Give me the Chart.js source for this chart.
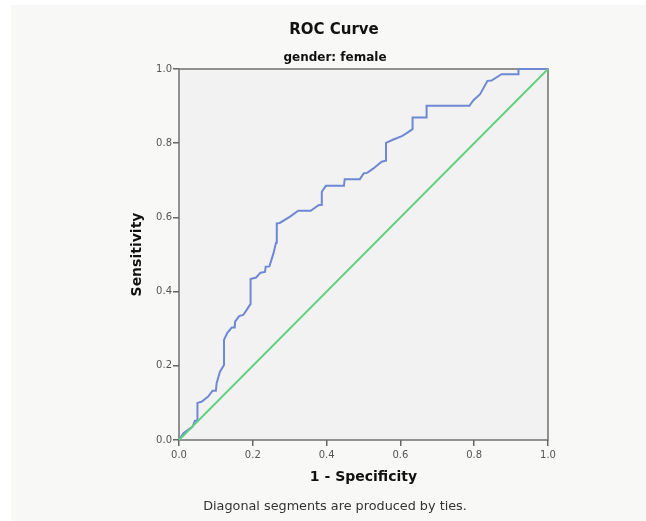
<!DOCTYPE html>
<html>
<head>
<meta charset="utf-8">
<script src="https://cdn.jsdelivr.net/npm/chart.js@4"></script>
<style>
  html, body { margin: 0; padding: 0; background: #ffffff; }
  canvas { display: block; }
</style>
</head>
<body>
<canvas id="rocChart" width="646" height="521"></canvas>
<script>
// ROC curve points (1 - specificity, sensitivity)
const fpr = [0, 0.012, 0.037, 0.043, 0.05, 0.05, 0.061, 0.079, 0.091, 0.1, 0.102, 0.111, 0.122, 0.122,
  0.131, 0.143, 0.151, 0.152, 0.163, 0.174, 0.183, 0.194, 0.194, 0.209, 0.221, 0.233, 0.235, 0.245,
  0.256, 0.263, 0.265, 0.273, 0.301, 0.323, 0.357, 0.378, 0.387, 0.387, 0.398, 0.447, 0.449, 0.49,
  0.501, 0.51, 0.527, 0.549, 0.561, 0.561, 0.581, 0.604, 0.617, 0.633, 0.633, 0.671, 0.671, 0.787,
  0.798, 0.816, 0.836, 0.847, 0.874, 0.92, 0.92, 1.0];
const tpr = [0, 0.018, 0.036, 0.052, 0.052, 0.10, 0.103, 0.117, 0.133, 0.133, 0.153, 0.184, 0.202, 0.27,
  0.289, 0.303, 0.303, 0.319, 0.334, 0.337, 0.35, 0.367, 0.434, 0.438, 0.451, 0.453, 0.467, 0.468,
  0.503, 0.532, 0.584, 0.585, 0.602, 0.618, 0.618, 0.633, 0.634, 0.669, 0.685, 0.685, 0.703, 0.703,
  0.719, 0.72, 0.732, 0.75, 0.753, 0.801, 0.81, 0.819, 0.827, 0.838, 0.869, 0.869, 0.901, 0.901,
  0.916, 0.932, 0.968, 0.969, 0.986, 0.986, 1.0, 1.0];

// reference line
const refX = [0, 1];
const refY = [0, 1];

const tickValues = [0, 0.2, 0.4, 0.6, 0.8, 1.0];

const titleText = 'ROC Curve';
const subtitleText = 'gender: female';
const xTitle = '1 - Specificity';
const yTitle = 'Sensitivity';
const footnote = 'Diagonal segments are produced by ties.';

const FONT = '"DejaVu Sans", sans-serif';

const toPoints = function (xs, ys) {
  return xs.map((x, i) => ({ x: x, y: ys[i] }));
};

// background, plot panel, frame and the text around the chart
const spssLook = {
  id: 'spssLook',
  beforeDraw(chart) {
    const ctx = chart.ctx;
    const a = chart.chartArea;
    ctx.save();
    ctx.fillStyle = '#ffffff';
    ctx.fillRect(0, 0, chart.width, chart.height);
    ctx.fillStyle = '#f8f8f6';
    ctx.fillRect(11, 5, chart.width - 11, chart.height - 5);
    ctx.fillStyle = '#f2f2f2';
    ctx.fillRect(a.left, a.top, a.right - a.left, a.bottom - a.top);
    ctx.strokeStyle = '#707070';
    ctx.lineWidth = 1.5;
    ctx.strokeRect(a.left, a.top, a.right - a.left, a.bottom - a.top);

    ctx.fillStyle = '#111111';
    ctx.textAlign = 'center';
    ctx.textBaseline = 'middle';
    ctx.font = 'bold 15px ' + FONT;
    ctx.fillText(titleText, 334, 30);
    ctx.font = 'bold 12px ' + FONT;
    ctx.fillText(subtitleText, 335, 58);
    ctx.fillStyle = '#333333';
    ctx.font = '12.8px ' + FONT;
    ctx.fillText(footnote, 335, 507);
    ctx.restore();
  }
};

new Chart(document.getElementById('rocChart'), {
  type: 'scatter',
  data: {
    datasets: [
      {
        label: 'Reference Line',
        data: toPoints(refX, refY),
        showLine: true,
        borderColor: '#5fd07c',
        borderWidth: 1.8,
        pointRadius: 0,
        tension: 0,
        clip: 3
      },
      {
        label: 'ROC',
        data: toPoints(fpr, tpr),
        showLine: true,
        borderColor: '#6f88d4',
        borderWidth: 2,
        pointRadius: 0,
        tension: 0,
        clip: 3
      }
    ]
  },
  options: {
    responsive: false,
    animation: false,
    events: [],
    layout: { padding: { left: 0, top: 69, right: 98, bottom: 0 } },
    plugins: {
      legend: { display: false },
      title: { display: false },
      tooltip: { enabled: false }
    },
    scales: {
      x: {
        type: 'linear',
        min: 0,
        max: 1,
        afterFit: function (scale) { scale.height = 81; },
        afterBuildTicks: function (scale) { scale.ticks = tickValues.map(v => ({ value: v })); },
        border: { display: false },
        grid: { drawOnChartArea: false, drawTicks: true, tickLength: 6, tickColor: '#666666', lineWidth: 1.5 },
        ticks: {
          color: '#555555',
          padding: 3,
          font: { family: FONT, size: 10 },
          callback: v => Number(v).toFixed(1)
        },
        title: {
          display: true,
          text: xTitle,
          color: '#111111',
          font: { family: FONT, size: 14, weight: 'bold' },
          padding: { top: 0, bottom: 35.6 }
        }
      },
      y: {
        type: 'linear',
        min: 0,
        max: 1,
        afterFit: function (scale) { scale.width = 179; },
        afterBuildTicks: function (scale) { scale.ticks = tickValues.map(v => ({ value: v })); },
        border: { display: false },
        grid: { drawOnChartArea: false, drawTicks: true, tickLength: 6, tickColor: '#666666', lineWidth: 1.5 },
        ticks: {
          color: '#555555',
          padding: 1,
          font: { family: FONT, size: 10 },
          callback: v => Number(v).toFixed(1)
        },
        title: {
          display: true,
          text: yTitle,
          color: '#111111',
          font: { family: FONT, size: 14, weight: 'bold' },
          padding: { top: 128.6, bottom: 0 }
        }
      }
    }
  },
  plugins: [spssLook]
});
</script>
</body>
</html>
